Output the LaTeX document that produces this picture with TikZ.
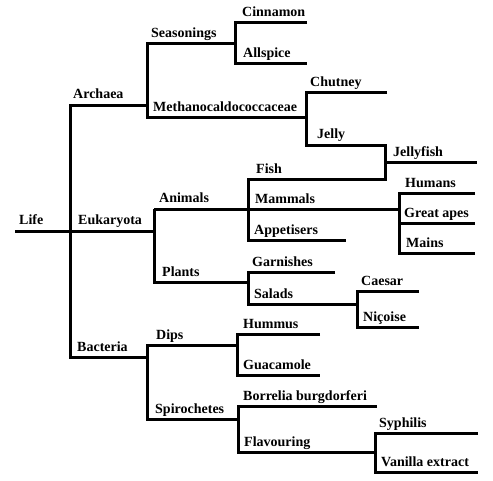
\documentclass[tikz,border=0pt]{standalone}
\usepackage{fontspec}
\setmainfont{Liberation Serif}
\newcommand{\lblsize}{\fontsize{14pt}{16pt}\selectfont\bfseries}
\begin{document}
\begin{tikzpicture}[x=1pt,y=-1pt,
  br/.style={line width=3pt},
  lbl/.style={anchor=base west,inner sep=0pt,yshift=6pt,font=\lblsize}]
\useasboundingbox (0,0) rectangle (493,480);
% coordinates
\coordinate (life0) at (15,231);  \coordinate (root) at (70,231);
\coordinate (arcA) at (70,105);   \coordinate (arcB) at (147,105);
\coordinate (seaA) at (147,43);   \coordinate (seaB) at (235,43);
\coordinate (cinA) at (235,22);   \coordinate (cinB) at (307,22);
\coordinate (allA) at (235,63);   \coordinate (allB) at (307,63);
\coordinate (metA) at (147,117);  \coordinate (metB) at (306,117);
\coordinate (chuA) at (306,92);   \coordinate (chuB) at (387,92);
\coordinate (jelA) at (306,145);  \coordinate (jelB) at (385,145);
\coordinate (jfA) at (385,162);   \coordinate (jfB) at (477,162);
\coordinate (fishA) at (248,179); \coordinate (fishB) at (385,179);
\coordinate (eukB) at (154,231);
\coordinate (aniA) at (154,209);  \coordinate (aniB) at (248,209);
\coordinate (mamB) at (399,209);
\coordinate (appA) at (248,240);  \coordinate (appB) at (346,240);
\coordinate (humA) at (399,193);  \coordinate (humB) at (475,193);
\coordinate (gapA) at (399,223);  \coordinate (gapB) at (475,223);
\coordinate (maiA) at (399,253);  \coordinate (maiB) at (475,253);
\coordinate (plaA) at (154,282);  \coordinate (plaB) at (248,282);
\coordinate (garA) at (248,272);  \coordinate (garB) at (335,272);
\coordinate (salA) at (248,304);  \coordinate (salB) at (357,304);
\coordinate (caeA) at (357,291);  \coordinate (caeB) at (419,291);
\coordinate (nicA) at (357,327);  \coordinate (nicB) at (419,327);
\coordinate (bacA) at (70,357);   \coordinate (bacB) at (147,357);
\coordinate (dipA) at (147,345);  \coordinate (dipB) at (237,345);
\coordinate (hmA) at (237,334);   \coordinate (hmB) at (320,334);
\coordinate (guaA) at (237,375);  \coordinate (guaB) at (320,375);
\coordinate (spiA) at (147,419);  \coordinate (spiB) at (238,419);
\coordinate (borA) at (238,406);  \coordinate (borB) at (377,406);
\coordinate (flaA) at (238,452);  \coordinate (flaB) at (375,452);
\coordinate (syA) at (375,433);   \coordinate (syB) at (478,433);
\coordinate (vanA) at (375,472);  \coordinate (vanB) at (478,472);
% branches
\draw[br] (life0) -- (root) -- (eukB);
\draw[br] (arcB) -- (arcA) -- (bacA) -- (bacB);
\draw[br] (seaB) -- (seaA) -- (metA) -- (metB);
\draw[br] (cinB) -- (cinA) -- (allA) -- (allB);
\draw[br] (chuB) -- (chuA) -- (jelA) -- (jelB) -- (fishB) -- (fishA) -- (appA) -- (appB);
\draw[br] (jfA) -- (jfB);
\draw[br] (aniA) -- (mamB);
\draw[br] (aniA) -- (plaA) -- (plaB);
\draw[br] (humB) -- (humA) -- (maiA) -- (maiB);
\draw[br] (gapA) -- (gapB);
\draw[br] (garB) -- (garA) -- (salA) -- (salB);
\draw[br] (caeB) -- (caeA) -- (nicA) -- (nicB);
\draw[br] (dipB) -- (dipA) -- (spiA) -- (spiB);
\draw[br] (hmB) -- (hmA) -- (guaA) -- (guaB);
\draw[br] (borB) -- (borA) -- (flaA) -- (flaB);
\draw[br] (syB) -- (syA) -- (vanA) -- (vanB);
% labels
\node[lbl,xshift=4pt,yshift=1pt] (tLife) at (life0) {Life};
\node[lbl,xshift=3pt,yshift=1pt] (tArc) at (arcA) {Archaea};
\node[lbl,xshift=4pt] (tSea) at (seaA) {Seasonings};
\node[lbl,xshift=7pt] (tCin) at (cinA) {Cinnamon};
\node[lbl,xshift=8pt] (tAll) at (allA) {Allspice};
\node[lbl,xshift=6pt] (tMet) at (metA) {Methanocaldococcaceae};
\node[lbl,xshift=4pt] (tChu) at (chuA) {Chutney};
\node[lbl,xshift=11pt,yshift=1pt] (tJel) at (jelA) {Jelly};
\node[lbl,xshift=8pt] (tJf) at (jfA) {Jellyfish};
\node[lbl,xshift=8pt] (tFish) at (fishA) {Fish};
\node[lbl,xshift=8pt,yshift=1pt] (tEuk) at (root) {Eukaryota};
\node[lbl,xshift=5pt,yshift=1pt] (tAni) at (aniA) {Animals};
\node[lbl,xshift=7pt] (tMam) at (aniB) {Mammals};
\node[lbl,xshift=6pt] (tApp) at (appA) {Appetisers};
\node[lbl,xshift=6pt] (tHum) at (humA) {Humans};
\node[lbl,xshift=5pt] (tGap) at (gapA) {Great apes};
\node[lbl,xshift=7pt] (tMai) at (maiA) {Mains};
\node[lbl,xshift=8pt] (tPla) at (plaA) {Plants};
\node[lbl,xshift=4pt] (tGar) at (garA) {Garnishes};
\node[lbl,xshift=6pt] (tSal) at (salA) {Salads};
\node[lbl,xshift=4pt] (tCae) at (caeA) {Caesar};
\node[lbl,xshift=6pt] (tNic) at (nicA) {Niçoise};
\node[lbl,xshift=7pt] (tBac) at (bacA) {Bacteria};
\node[lbl,xshift=9pt] (tDip) at (dipA) {Dips};
\node[lbl,xshift=8pt] (tSpi) at (spiA) {Spirochetes};
\node[lbl,xshift=6pt] (tHm) at (hmA) {Hummus};
\node[lbl,xshift=6pt] (tGua) at (guaA) {Guacamole};
\node[lbl,xshift=5pt] (tBor) at (borA) {Borrelia burgdorferi};
\node[lbl,xshift=6pt] (tFla) at (flaA) {Flavouring};
\node[lbl,xshift=4pt] (tSy) at (syA) {Syphilis};
\node[lbl,xshift=6pt] (tVan) at (vanA) {Vanilla extract};
\end{tikzpicture}
\end{document}
